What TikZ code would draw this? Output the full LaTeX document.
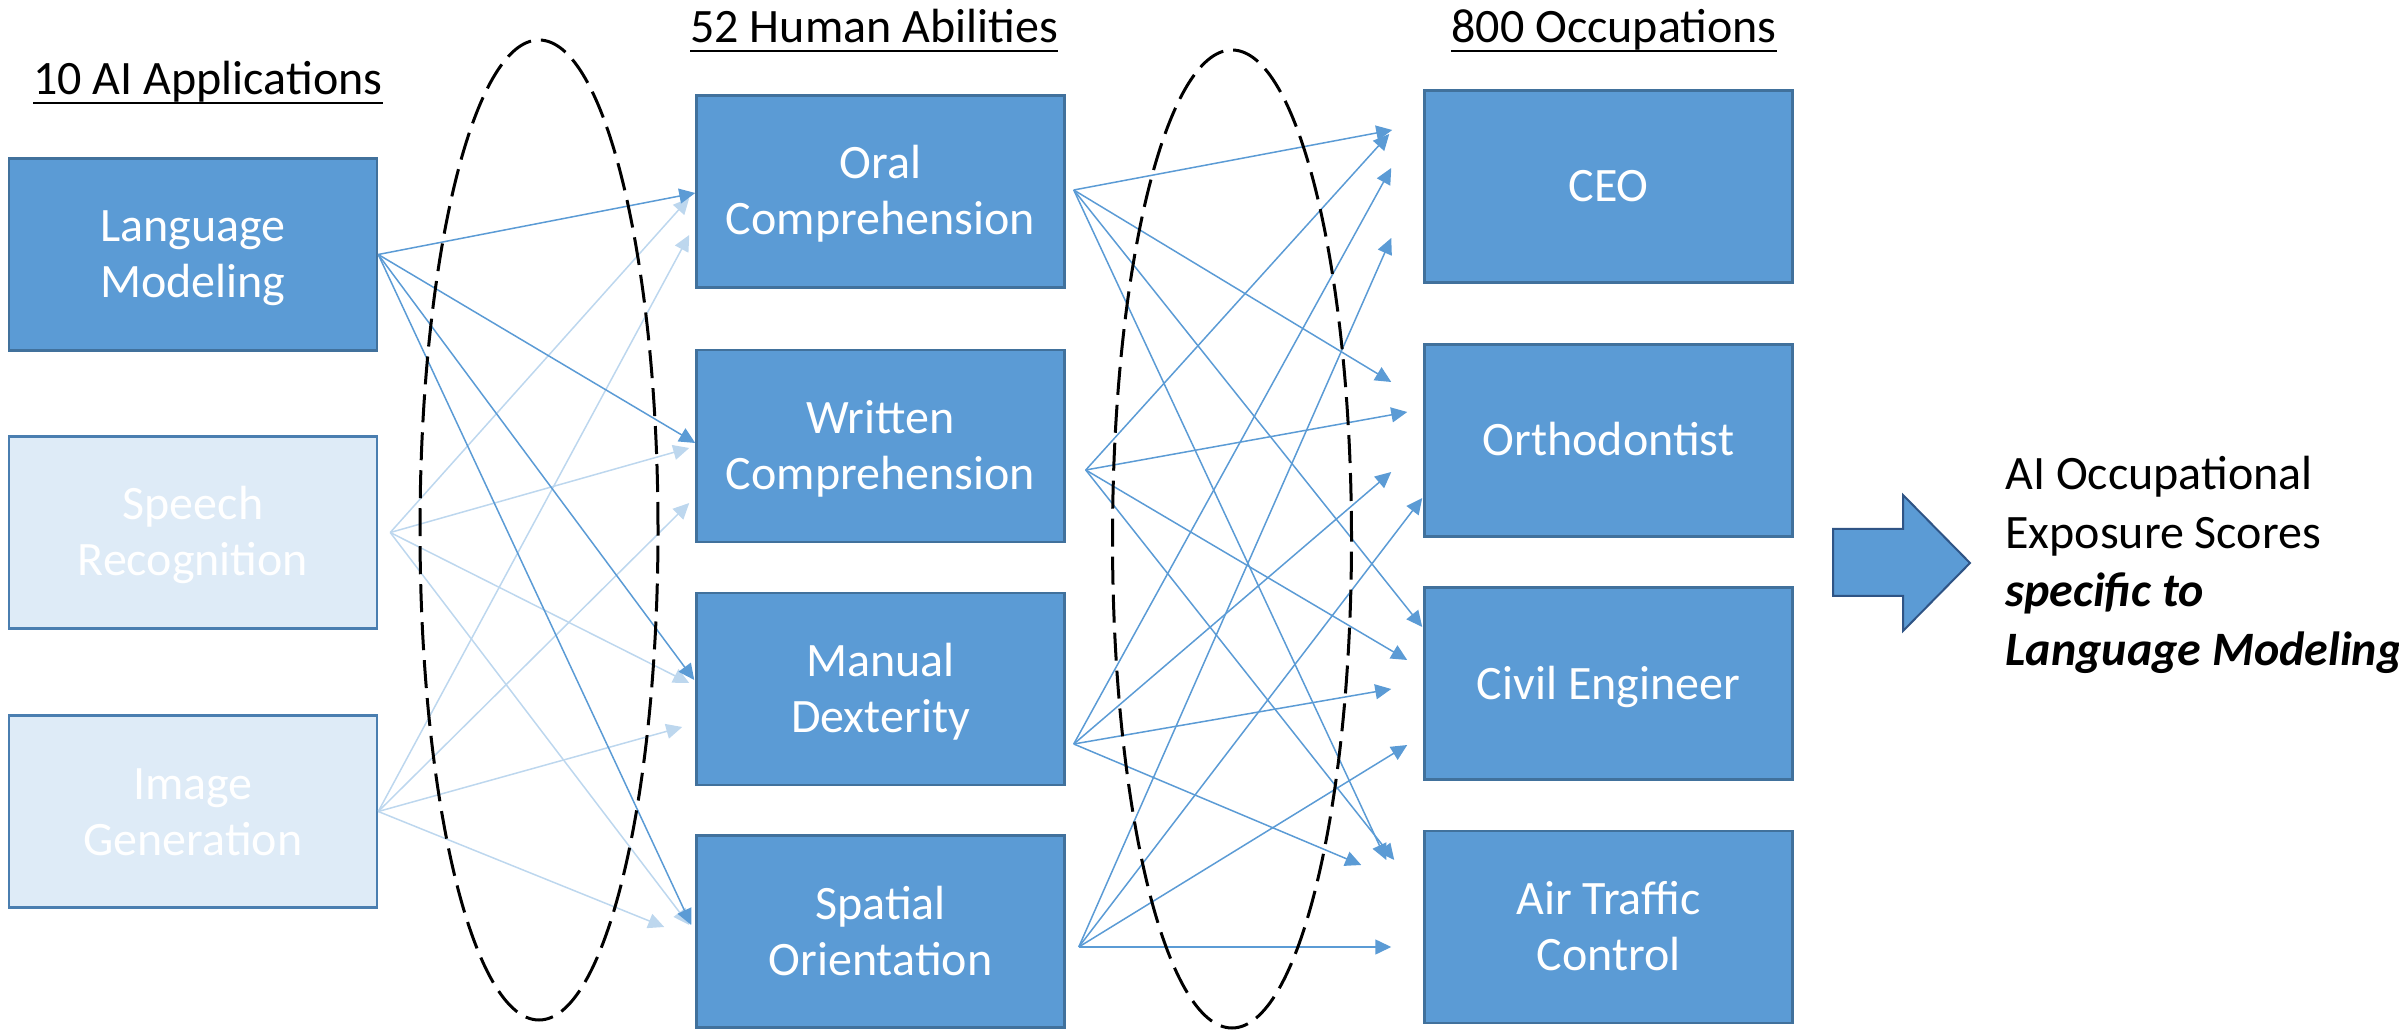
\documentclass[tikz,border=0pt]{standalone}
\usepackage{fontspec}
\setmainfont{Carlito}
\usetikzlibrary{arrows.meta,calc}
\definecolor{boxblue}{HTML}{5B9BD5}
\definecolor{boxborder}{HTML}{41719C}
\definecolor{fadedfill}{HTML}{DEEBF7}
\definecolor{fadedborder}{HTML}{4A7EB0}
\definecolor{lightarrow}{HTML}{BDD7EE}
\definecolor{arrowborder}{HTML}{2F5485}
\newcommand{\twol}[2]{\parbox[t]{176pt}{\centering #1\\#2}}
\begin{document}
\begin{tikzpicture}[x=0.5pt,y=-0.5pt,
  box/.style={draw=boxborder, fill=boxblue, line width=1.25pt, minimum width=184pt, minimum height=96pt, inner sep=0pt, text=white, font=\fontsize{24}{28}\selectfont, text height=15.5pt, text depth=0pt},
  twobox/.style={box, text height=0pt, text depth=12.5pt},
  faded/.style={fill=fadedfill, draw=fadedborder},
  title/.style={inner sep=0pt, anchor=base west, font=\fontsize{24}{29}\selectfont},
  conn/.style={draw=boxblue, line width=0.75pt, -{Triangle[length=8pt,width=7.5pt]}},
  faint/.style={conn, draw=lightarrow},
  oval/.style={draw=black, line width=1.5pt, dash pattern=on 14pt off 5pt},
]
\useasboundingbox (0,0) rectangle (2399,1031);

% boxes
\node[twobox] (lm) at (193,254.5) {\twol{Language}{Modeling}};
\node[twobox, faded] (sr) at (193,532.5) {\twol{Speech}{Recognition}};
\node[twobox, faded] (ig) at (193,811.5) {\twol{Image}{Generation}};
\node[twobox] (oral) at (880.5,191.5) {\twol{Oral}{Comprehension}};
\node[twobox] (writ) at (880.5,446) {\twol{Written}{Comprehension}};
\node[twobox] (man) at (880.5,689) {\twol{Manual}{Dexterity}};
\node[twobox] (spa) at (880.5,931.5) {\twol{Spatial}{Orientation}};
\node[box] (ceo) at (1608.5,186.5) {CEO};
\node[box] (orth) at (1608.5,440.5) {Orthodontist};
\node[box] (civ) at (1608.5,683.5) {Civil Engineer};
\node[twobox] (atc) at (1608.5,927) {\twol{Air Traffic}{Control}};

% titles
\node[title] (h1) at (33,95) {10 AI Applications};
\node[title] (h2) at (690,43) {52 Human Abilities};
\node[title] (h3) at (1451,43) {800 Occupations};
\foreach \h in {h1,h2,h3}
  \draw[line width=1.2pt] ($(\h.base west)+(0,8)$) -- ($(\h.base east)+(0,8)$);

% start points
\coordinate (slm) at (lm.east);
\coordinate (ssr) at ($(sr.east)+(12,0)$);
\coordinate (sig) at (ig.east);
\coordinate (soral) at ($(oral.east)+(8,-1.5)$);
\coordinate (swrit) at ($(writ.east)+(20,24)$);
\coordinate (sman) at ($(man.east)+(8,55)$);
\coordinate (sspa) at ($(spa.east)+(13,15.5)$);

% faint connectors
\draw[faint] (ssr) -- ($(oral.west)+(-6,6.5)$);
\draw[faint] (ssr) -- ($(writ.west)+(-6,2)$);
\draw[faint] (ssr) -- ($(man.west)+(-6,-6)$);
\draw[faint] (ssr) -- ($(spa.west)+(-6,-6.5)$);
\draw[faint] (sig) -- ($(oral.west)+(-6,43.5)$);
\draw[faint] (sig) -- ($(writ.west)+(-6,57)$);
\draw[faint] (sig) -- ($(man.west)+(-13,38)$);
\draw[faint] (sig) -- ($(spa.west)+(-31,-4.5)$);

% language modeling connectors
\draw[conn] (slm) -- ($(oral.west)+(0,1.5)$);
\draw[conn] (slm) -- ($(writ.west)+(0,-3)$);
\draw[conn] (slm) -- ($(man.west)+(-1,-9)$);
\draw[conn] (slm) -- ($(spa.west)+(-4,-6.5)$);

% abilities to occupations
\draw[conn] (soral) -- ($(ceo.west)+(-31,-56.5)$);
\draw[conn] (soral) -- ($(orth.west)+(-32,-58.5)$);
\draw[conn] (soral) -- ($(civ.west)+(-1,-56.5)$);
\draw[conn] (soral) -- ($(atc.west)+(-37,-67)$);
\draw[conn] (swrit) -- ($(ceo.west)+(-34,-52.5)$);
\draw[conn] (swrit) -- ($(orth.west)+(-16,-28.5)$);
\draw[conn] (swrit) -- ($(civ.west)+(-16,-23.5)$);
\draw[conn] (swrit) -- ($(atc.west)+(-29,-67)$);
\draw[conn] (sman) -- ($(ceo.west)+(-32,-18.5)$);
\draw[conn] (sman) -- ($(orth.west)+(-32,31.5)$);
\draw[conn] (sman) -- ($(civ.west)+(-32,5.5)$);
\draw[conn] (sman) -- ($(atc.west)+(-62,-62)$);
\draw[conn] (sspa) -- ($(ceo.west)+(-32,51.5)$);
\draw[conn] (sspa) -- ($(orth.west)+(-1,57.5)$);
\draw[conn] (sspa) -- ($(civ.west)+(-16,61.5)$);
\draw[conn] (sspa) -- ($(atc.west)+(-32,20)$);

% dashed ellipses
\draw[oval] (539,530) ellipse [x radius=59.5pt, y radius=245pt];
\draw[oval] (1232,539) ellipse [x radius=59.75pt, y radius=244.5pt];

% big arrow
\draw[fill=boxblue, draw=arrowborder, line width=1pt]
  (1833,529) -- (1903,529) -- (1903,495) -- (1970,563) -- (1903,631) -- (1903,596) -- (1833,596) -- cycle;

% result text
\node[title] (r1) at (2005,490) {AI Occupational};
\node[title] (r2) at (2005,548.5) {Exposure Scores};
\node[title, font=\fontsize{24}{29}\selectfont\bfseries\itshape] (r3) at (2005,607) {specific to};
\node[title, font=\fontsize{24}{29}\selectfont\bfseries\itshape] (r4) at (2005,665.5) {Language Modeling};
\end{tikzpicture}
\end{document}
